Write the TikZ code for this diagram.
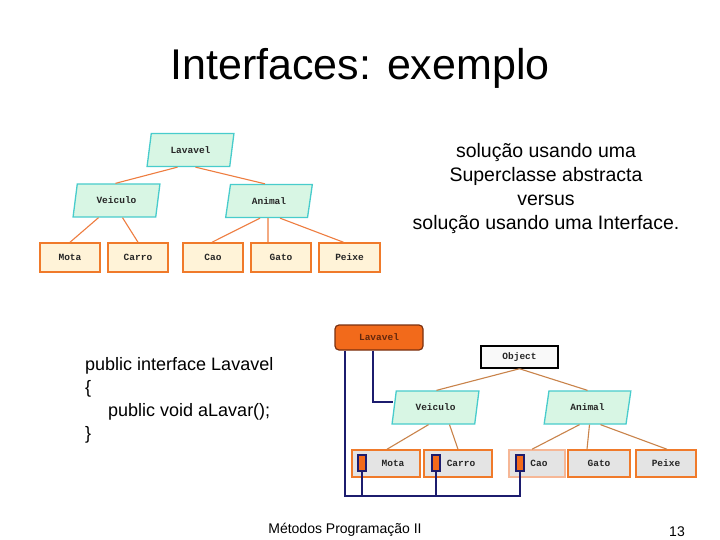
\documentclass[tikz,border=0pt]{standalone}
\usepackage{fontspec}
\setmainfont{Liberation Sans}
\newfontfamily\lblfont{Liberation Mono}
\usetikzlibrary{shapes.geometric}
\definecolor{boxfill}{HTML}{FFF3D8}
\definecolor{boxedge}{HTML}{F07A2A}
\definecolor{parfill}{HTML}{D8F6E4}
\definecolor{paredge}{HTML}{48CCCC}
\definecolor{edgeor}{HTML}{EE7D40}
\definecolor{edgebr}{HTML}{C9834A}
\definecolor{grayfill}{HTML}{E4E4E4}
\definecolor{lavor}{HTML}{F26A1B}
\definecolor{lavedge}{HTML}{7A3010}
\definecolor{navy}{HTML}{1C1C6E}
\tikzset{
  lbl/.style={font=\lblfont\bfseries\fontsize{9.5}{11}\selectfont, text=black!85},
  par/.style={lbl, trapezium, trapezium left angle=73, trapezium right angle=107,
    trapezium stretches=true, draw=paredge, fill=parfill, line width=1.3pt,
    minimum width=87pt, minimum height=33pt, inner sep=0pt},
  topbox/.style={lbl, draw=boxedge, fill=boxfill, line width=1.5pt, minimum height=29pt, minimum width=60pt, inner sep=0pt},
  botbox/.style={lbl, draw=boxedge, fill=grayfill, line width=1.5pt, minimum height=27pt, inner sep=0pt},
  tedge/.style={draw=edgeor, line width=1.1pt},
  bedge/.style={draw=edgebr, line width=1.1pt},
  sq/.style={draw=navy, fill=lavor, line width=1.5pt, minimum width=8pt, minimum height=16pt, inner sep=0pt},
  navl/.style={draw=navy, line width=1.8pt},
  txt/.style={font=\fontsize{19.5}{24}\selectfont, align=center, inner sep=0pt}
}
\begin{document}
\begin{tikzpicture}[x=1pt,y=-1pt]
\useasboundingbox (0,0) rectangle (720,540);
\fill[white] (0,0) rectangle (720,540);
% title
\node[font=\fontsize{43}{46}\selectfont, inner sep=0pt] (title) at (360,68) {Interfaces: exemplo};
% right text
\node[txt] (desc) at (546,189) {solução usando uma\\Superclasse abstracta\\versus\\solução usando uma Interface.};
% code
\node[font=\fontsize{18}{23}\selectfont, align=left, anchor=north west, inner sep=0pt] (code) at (85,357)
 {public interface Lavavel\\\{\\\hspace*{23pt}public void aLavar();\\\}};
% footer
\node[font=\fontsize{14}{16}\selectfont, inner sep=0pt] (foot) at (345,530) {Métodos Programação II};
\node[font=\fontsize{14}{16}\selectfont, inner sep=0pt] (page) at (677,532) {13};

% ---- top diagram
\node[par] (lav1) at (190.5,150) {Lavavel};
\node[par] (vei1) at (116.5,200.5) {Veiculo};
\node[par] (ani1) at (269,201) {Animal};
\node[topbox] (mota1) at (70,257.5) {Mota};
\node[topbox] (carro1) at (138,257.5) {Carro};
\node[topbox] (cao1) at (213,257.5) {Cao};
\node[topbox] (gato1) at (281,257.5) {Gato};
\node[topbox, minimum width=61pt] (peixe1) at (349.5,257.5) {Peixe};
\draw[tedge] ([xshift=-13pt]lav1.south) -- ([xshift=-1pt]vei1.north);
\draw[tedge] ([xshift=5pt]lav1.south) -- ([xshift=-4pt]ani1.north);
\draw[tedge] ([xshift=-18pt]vei1.south) -- ([xshift=0pt]mota1.north);
\draw[tedge] ([xshift=6pt]vei1.south) -- (carro1.north);
\draw[tedge] ([xshift=-9pt]ani1.south) -- ([xshift=-1pt]cao1.north);
\draw[tedge] ([xshift=-1pt]ani1.south) -- ([xshift=-13pt]gato1.north);
\draw[tedge] ([xshift=11pt]ani1.south) -- ([xshift=-6pt]peixe1.north);

% ---- bottom diagram
\node[lbl, text=lavedge!80!black, draw=lavedge, fill=lavor, rounded corners=4pt, line width=1.2pt, minimum width=88pt, minimum height=25pt, inner sep=0pt] (lav2) at (379,337.5) {Lavavel};
\node[lbl, draw=black, fill=white!95!gray, line width=1.5pt, minimum width=77pt, minimum height=22pt, inner sep=0pt] (obj) at (519.5,357) {Object};
\node[par] (vei2) at (435.5,407.5) {Veiculo};
\node[par] (ani2) at (587.5,407.5) {Animal};
\node[botbox, minimum width=68pt] (mota2) at (386,463.5) {\hspace*{14pt}Mota};
\node[botbox, minimum width=68pt] (carro2) at (458,463.5) {\hspace*{6pt}Carro};
\node[botbox, minimum width=56pt, draw=edgeor!55] (cao2) at (537,463.5) {\hspace*{4pt}Cao};
\node[botbox, minimum width=62pt] (gato2) at (599,463.5) {Gato};
\node[botbox, minimum width=60pt] (peixe2) at (666,463.5) {Peixe};
\draw[bedge] (obj.south) -- ([xshift=1pt]vei2.north);
\draw[bedge] (obj.south) -- ([xshift=0pt]ani2.north);
\draw[bedge] ([xshift=-7pt]vei2.south) -- ([xshift=1pt]mota2.north);
\draw[bedge] ([xshift=14pt]vei2.south) -- (carro2.north);
\draw[bedge] ([xshift=-8pt]ani2.south) -- ([xshift=-5pt]cao2.north);
\draw[bedge] ([xshift=2pt]ani2.south) -- ([xshift=-12pt]gato2.north);
\draw[bedge] ([xshift=13pt]ani2.south) -- ([xshift=1pt]peixe2.north);
% interface markers
\node[sq] (sqm) at (362,463) {};
\node[sq] (sqc) at (436,463) {};
\node[sq] (sqa) at (520,463) {};
\coordinate (busl) at (345,496);
\coordinate (busr) at (520,496);
\draw[navl] ([xshift=-34pt]lav2.south) -- (busl) -- (busr) -- (sqa.south);
\draw[navl] (sqm.south) -- (sqm.south |- busl);
\draw[navl] (sqc.south) -- (sqc.south |- busl);
\draw[navl] ([xshift=-6pt]lav2.south) |- ([xshift=-1pt,yshift=5.5pt]vei2.west);
\end{tikzpicture}
\end{document}
